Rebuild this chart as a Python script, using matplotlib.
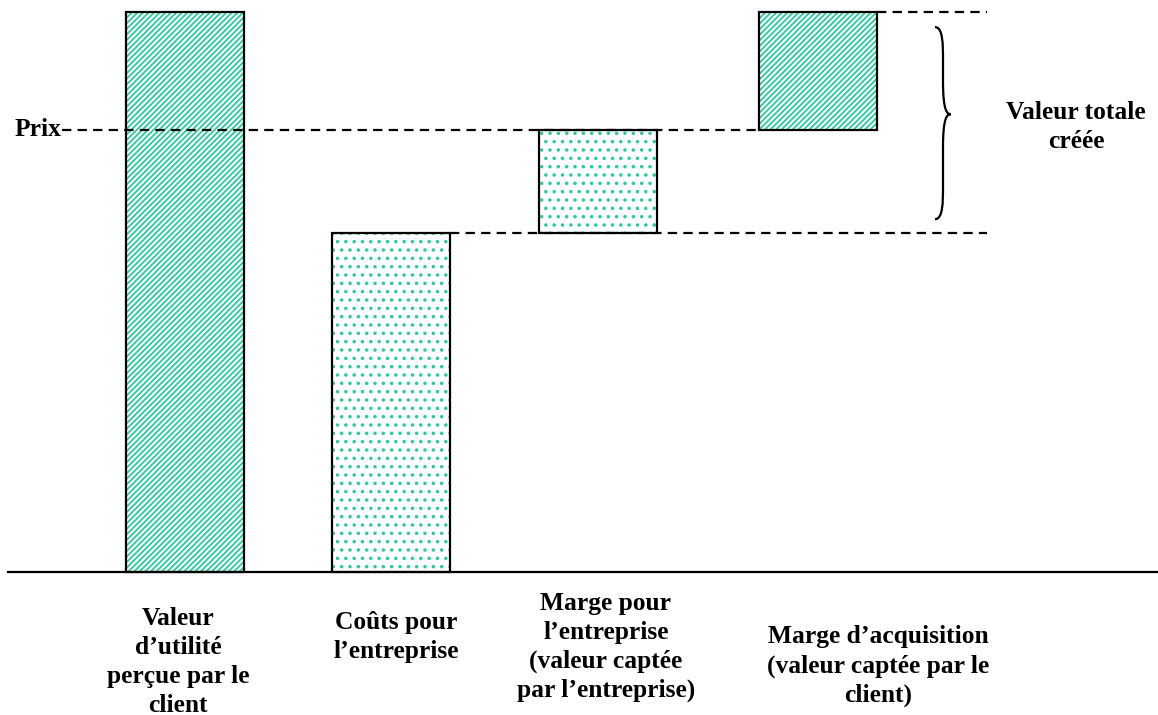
import matplotlib
matplotlib.use("Agg")
import matplotlib.pyplot as plt
from matplotlib.path import Path
from matplotlib.patches import PathPatch

# ---- data ----
categories = [
    "Valeur\nd\u2019utilit\u00e9\nper\u00e7ue par le\nclient",
    "Co\u00fbts pour\nl\u2019entreprise",
    "Marge pour\nl\u2019entreprise\n(valeur capt\u00e9e\npar l\u2019entreprise)",
    "Marge d\u2019acquisition\n(valeur capt\u00e9e par le\nclient)",
]
utility = 100.0   # valeur d'utilite percue
cost = 60.5       # couts pour l'entreprise
price = 79.0      # prix
bar_bottoms = [0.0, 0.0, cost, price]
bar_heights = [utility, cost, price - cost, utility - price]
bar_hatches = ["//////", "..", "..", "//////"]
price_label = "Prix"
total_label = "Valeur totale\ncr\u00e9\u00e9e"

# ---- layout ----
W, H = 1158, 715
bar_x = [185, 391, 597.5, 818]
bar_w = 118
label_x = [178, 396, 606, 878]
label_y_px = [662, 637, 647, 666]
base_px, top_px = 572, 12
scale = (base_px - top_px) / utility  # px per unit

def ypx(p):
    return (base_px - p) / scale

teal = "#2ACB9B"
plt.rcParams["hatch.linewidth"] = 1.3
fam = ["Liberation Serif", "DejaVu Serif"]

fig = plt.figure(figsize=(W / 100, H / 100), dpi=100)
ax = fig.add_axes([0, 0, 1, 1])
ax.set_xlim(0, W)
ax.set_ylim(ypx(H), ypx(0))
ax.axis("off")

for x, b, h, hatch in zip(bar_x, bar_bottoms, bar_heights, bar_hatches):
    ax.bar(x, h, bottom=b, width=bar_w, facecolor="white", edgecolor=teal,
           linewidth=0, hatch=hatch, zorder=2)
    ax.bar(x, h, bottom=b, width=bar_w, fill=False, edgecolor="black",
           linewidth=1.6, zorder=2.5)

# baseline
ax.plot([8, W], [0, 0], color="black", lw=1.6, zorder=3)

dash = dict(color="black", lw=1.6, linestyle=(0, (4.2, 2.8)), zorder=3)
# price line
ax.plot([62, bar_x[3] - bar_w / 2], [price, price], **dash)
# top line
ax.plot([bar_x[3] + bar_w / 2, 987], [utility, utility], **dash)
# cost line
ax.plot([bar_x[1] + bar_w / 2, 987], [cost, cost], **dash)

# brace
bx0, bx1 = 935, 951
yt, yb = utility - 2.7, cost + 2.5
ym = (utility + cost) / 2 + 1.5
r = 3.0
verts = [
    (bx0, yt), (bx0 + 8, yt), (bx0 + 8, yt - r), (bx0 + 8, yt - 2 * r),
    (bx0 + 8, ym + 2 * r),
    (bx0 + 8, ym + 0.5), (bx1 - 4, ym), (bx1, ym),
    (bx1 - 4, ym), (bx0 + 8, ym - 0.5), (bx0 + 8, ym - 2 * r),
    (bx0 + 8, yb + 2 * r),
    (bx0 + 8, yb + r), (bx0 + 8, yb), (bx0, yb),
]
codes = [Path.MOVETO, Path.CURVE4, Path.CURVE4, Path.CURVE4,
         Path.LINETO,
         Path.CURVE4, Path.CURVE4, Path.CURVE4,
         Path.CURVE4, Path.CURVE4, Path.CURVE4,
         Path.LINETO,
         Path.CURVE4, Path.CURVE4, Path.CURVE4]
ax.add_patch(PathPatch(Path(verts, codes), facecolor="none", edgecolor="black", lw=1.6))

fs = 18.4
ls = 1.32
ax.text(15, price, price_label, fontsize=fs, fontweight="bold", family=fam,
        ha="left", va="center")
ax.text(1076, ypx(127), total_label, fontsize=fs, fontweight="bold", family=fam,
        ha="center", va="center", linespacing=ls)
for lx, ly, lab in zip(label_x, label_y_px, categories):
    ax.text(lx, ypx(ly), lab, fontsize=fs, fontweight="bold", family=fam,
            ha="center", va="center", multialignment="center", linespacing=ls)

fig.savefig("out.png", dpi=100)
